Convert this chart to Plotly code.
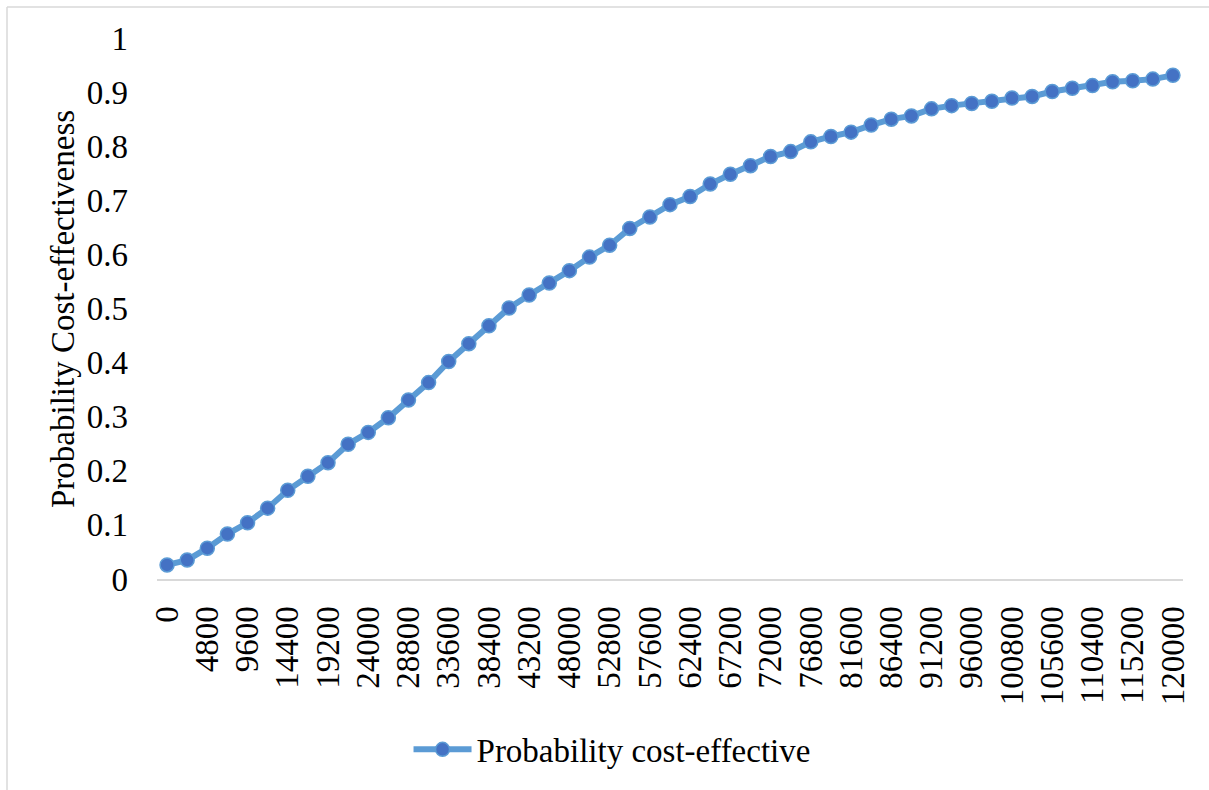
import plotly.graph_objects as go

# Willingness-to-pay thresholds (step 2400) and probability of cost-effectiveness
wtp = list(range(0, 120001, 2400))
prob_ce = [
    0.026, 0.035, 0.057, 0.083, 0.104, 0.131, 0.164, 0.190, 0.215, 0.249,
    0.271, 0.298, 0.331, 0.363, 0.402, 0.435, 0.468, 0.501, 0.525, 0.547,
    0.570, 0.595, 0.617, 0.648, 0.669, 0.692, 0.707, 0.730, 0.748, 0.764,
    0.781, 0.790, 0.808, 0.818, 0.826, 0.839, 0.850, 0.856, 0.869, 0.875,
    0.879, 0.883, 0.889, 0.892, 0.901, 0.907, 0.912, 0.919, 0.921, 0.924,
    0.931,
]
x_tick_vals = list(range(0, 120001, 4800))
x_tick_text = [str(v) for v in x_tick_vals]
y_tick_vals = [0, 0.1, 0.2, 0.3, 0.4, 0.5, 0.6, 0.7, 0.8, 0.9, 1]
y_tick_text = ["0", "0.1", "0.2", "0.3", "0.4", "0.5", "0.6", "0.7", "0.8", "0.9", "1"]

FONT = "Liberation Serif"
FS = 33

fig = go.Figure()
fig.add_trace(go.Scatter(
    x=wtp,
    y=prob_ce,
    mode="lines+markers",
    name="Probability cost-effective",
    line=dict(color="#5B9BD5", width=6),
    marker=dict(color="#4472C4", size=14, line=dict(color="#5B9BD5", width=1.5)),
))

fig.update_layout(
    width=1209,
    height=790,
    margin=dict(l=157, r=26, t=38, b=209),
    paper_bgcolor="white",
    plot_bgcolor="white",
    font=dict(family=FONT, size=FS, color="black"),
    showlegend=True,
    legend=dict(
        orientation="h",
        x=0.4435,
        xanchor="center",
        y=-0.315,
        yanchor="middle",
        itemwidth=58,
        font=dict(family=FONT, size=FS, color="black"),
        bgcolor="rgba(0,0,0,0)",
    ),
    xaxis=dict(
        range=[-1200, 121200],
        tickmode="array",
        tickvals=x_tick_vals,
        ticktext=x_tick_text,
        tickangle=-90,
        showgrid=False,
        zeroline=False,
        showline=True,
        linecolor="#D9D9D9",
        linewidth=2,
        ticks="",
        ticklabelstandoff=12,
        tickfont=dict(family=FONT, size=FS, color="black"),
    ),
    yaxis=dict(
        range=[0, 1],
        tickmode="array",
        tickvals=y_tick_vals,
        ticktext=y_tick_text,
        showgrid=False,
        zeroline=False,
        showline=False,
        ticks="",
        ticklabelstandoff=28,
        tickfont=dict(family=FONT, size=FS, color="black"),
    ),
    annotations=[dict(
        text="Probability Cost-effectiveness",
        xref="paper", yref="paper",
        x=(63 - 157) / 1026, y=(581 - 310) / 543,
        xanchor="center", yanchor="middle",
        textangle=-90,
        showarrow=False,
        font=dict(family=FONT, size=FS, color="black"),
    )],
    shapes=[
        # chart-area border (left and top edges)
        dict(type="line", xref="paper", yref="paper",
             x0=(7 - 157) / 1026, x1=(1215 - 157) / 1026,
             y0=(581 - 7) / 543, y1=(581 - 7) / 543,
             line=dict(color="#D9D9D9", width=1.5)),
        dict(type="line", xref="paper", yref="paper",
             x0=(7 - 157) / 1026, x1=(7 - 157) / 1026,
             y0=(581 - 7) / 543, y1=(581 - 800) / 543,
             line=dict(color="#D9D9D9", width=1.5)),
    ],
)

fig.write_html("out.html")
